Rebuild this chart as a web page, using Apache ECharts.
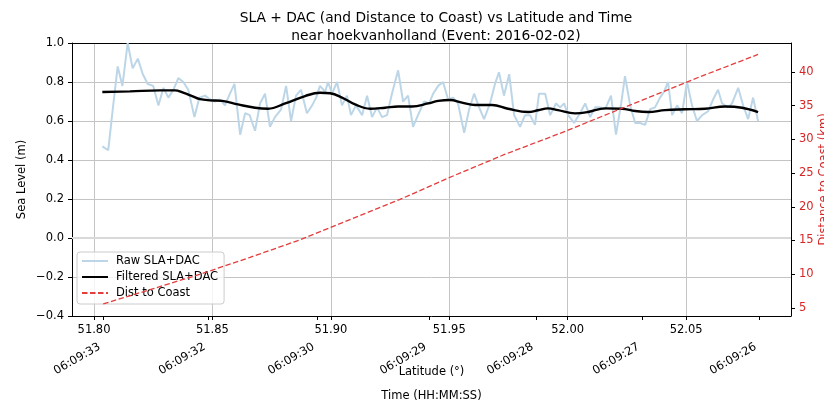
<!DOCTYPE html>
<html><head><meta charset="utf-8">
<script src="https://cdn.jsdelivr.net/npm/echarts@6/dist/echarts.min.js"></script>
<style>html,body{margin:0;padding:0;background:#fff}#c{width:824px;height:404px}</style>
</head><body><div id="c"></div>
<script>
// ---- data ----
const rawLat = [
  51.8035, 51.8060, 51.8080, 51.8100, 51.8120, 51.8142, 51.8163, 51.8185, 51.8206, 51.8227, 51.8250,
  51.8272, 51.8293, 51.8314, 51.8335, 51.8356, 51.8377, 51.8398, 51.8424, 51.8445, 51.8469, 51.8490,
  51.8511, 51.8532, 51.8553, 51.8574, 51.8593, 51.8617, 51.8638, 51.8657, 51.8680, 51.8701, 51.8722,
  51.8743, 51.8764, 51.8790, 51.8811, 51.8832, 51.8853, 51.8874, 51.8899, 51.8921, 51.8938, 51.8954,
  51.8976, 51.8988, 51.9005, 51.9026, 51.9047, 51.9068, 51.9085, 51.9106, 51.9132, 51.9153,
  51.9174, 51.9195, 51.9216, 51.9237, 51.9258, 51.9284, 51.9305, 51.9326, 51.9347, 51.9368,
  51.9394, 51.9415, 51.9432, 51.9453, 51.9474, 51.9495, 51.9516, 51.9537, 51.9563, 51.9584, 51.9605, 51.9626,
  51.9647, 51.9672, 51.9693, 51.9710, 51.9731, 51.9753, 51.9774, 51.9799, 51.9820, 51.9841, 51.9862,
  51.9879, 51.9905, 51.9926, 51.9951, 51.9968, 51.9985, 52.0002, 52.0027, 52.0052, 52.0074, 52.0095, 52.0116,
  52.0137, 52.0158, 52.0183, 52.0204, 52.0226, 52.0242, 52.0264, 52.0285, 52.0306, 52.0327, 52.0348,
  52.0369, 52.0390, 52.0407, 52.0424, 52.0441, 52.0462, 52.0483, 52.0504, 52.0525, 52.0546, 52.0568,
  52.0593, 52.0614, 52.0635, 52.0652, 52.0677, 52.0694, 52.0720, 52.0741, 52.0762, 52.0783, 52.0804
];
const rawSla = [
  0.47, 0.45, 0.67, 0.88, 0.78, 1.00, 0.87, 0.92, 0.84, 0.79, 0.78,
  0.68, 0.77, 0.72, 0.76, 0.82, 0.80, 0.76, 0.62, 0.72, 0.73, 0.71,
  0.70, 0.71, 0.68, 0.74, 0.79, 0.53, 0.64, 0.63, 0.55, 0.69, 0.74,
  0.57, 0.62, 0.66, 0.78, 0.60, 0.73, 0.76, 0.64, 0.68, 0.72, 0.78,
  0.75, 0.80, 0.74, 0.80, 0.68, 0.73, 0.63, 0.68, 0.63, 0.73,
  0.62, 0.67, 0.62, 0.63, 0.74, 0.86, 0.70, 0.73, 0.57, 0.63,
  0.70, 0.69, 0.74, 0.78, 0.80, 0.71, 0.72, 0.69, 0.54, 0.66, 0.74, 0.67,
  0.61, 0.69, 0.79, 0.85, 0.73, 0.84, 0.63, 0.57, 0.63, 0.63, 0.58,
  0.74, 0.74, 0.63, 0.69, 0.67, 0.69, 0.63, 0.59, 0.64, 0.69, 0.62, 0.67,
  0.67, 0.66, 0.73, 0.53, 0.69, 0.83, 0.68, 0.59, 0.59, 0.58, 0.66,
  0.67, 0.72, 0.75, 0.80, 0.63, 0.68, 0.64, 0.80, 0.68, 0.60, 0.63,
  0.65, 0.71, 0.76, 0.69, 0.67, 0.69, 0.77, 0.68, 0.61, 0.72, 0.60
];
const filtLat = [
  51.8035, 51.8152, 51.8279, 51.8342, 51.8376, 51.8414, 51.8448, 51.8490, 51.8541, 51.8608,
  51.8680, 51.8735, 51.8807, 51.8891, 51.8954, 51.8997, 51.9047, 51.9102, 51.9166, 51.9229,
  51.9284, 51.9343, 51.9410, 51.9453, 51.9503, 51.9554, 51.9609, 51.9681, 51.9748, 51.9833,
  51.9875, 51.9917, 51.9959, 52.0031, 52.0086, 52.0158, 52.0230, 52.0285, 52.0340, 52.0411,
  52.0496, 52.0580, 52.0665, 52.0736, 52.0804
];
const filtSla = [
  0.749, 0.752, 0.757, 0.757, 0.745, 0.728, 0.712, 0.706, 0.703, 0.685,
  0.668, 0.663, 0.690, 0.728, 0.745, 0.742, 0.720, 0.685, 0.663, 0.668,
  0.674, 0.674, 0.690, 0.703, 0.708, 0.694, 0.682, 0.682, 0.663, 0.646,
  0.655, 0.665, 0.656, 0.639, 0.646, 0.665, 0.663, 0.651, 0.646, 0.656,
  0.660, 0.663, 0.674, 0.668, 0.646
];
const distLat = [51.8039, 51.8236, 51.8448, 51.8659, 51.8870, 51.9081, 51.9292, 51.9491,
                 51.9736, 51.9968, 52.0179, 52.0348, 52.0559, 52.0804];
const distKm  = [5.6, 7.7, 10.0, 12.5, 15.1, 18.1, 21.1, 24.2, 27.8, 30.9, 33.9, 36.3, 39.3, 42.6];

const latTicks = [51.80, 51.85, 51.90, 51.95, 52.00, 52.05];
const distTicks = [5, 10, 15, 20, 25, 30, 35, 40];
const timeTickLat = [51.8038, 51.8481, 51.8942, 51.9415, 51.9867, 52.0314, 52.0808];
const timeTickLabels = ['06:09:33', '06:09:32', '06:09:30', '06:09:29', '06:09:28', '06:09:27', '06:09:26'];

const FONT = 'DejaVu Sans';
const FS = 11.5;
const X_MIN = 51.7907, X_MAX = 52.0943;
const RED_TXT = '#d62728';
const zip = (a, b) => a.map((v, i) => [v, b[i]]);

const chart = echarts.init(document.getElementById('c'), null, {renderer: 'canvas'});
chart.setOption({
  animation: false,
  backgroundColor: '#fff',
  textStyle: {fontFamily: FONT},
  title: {
    text: 'SLA + DAC (and Distance to Coast) vs Latitude and Time\nnear hoekvanholland (Event: 2016-02-02)',
    left: 431, top: 4, textAlign: 'center',
    textStyle: {fontFamily: FONT, fontSize: 13.8, fontWeight: 'normal', color: '#000', lineHeight: 18}
  },
  grid: {left: 72, right: 33, top: 43, bottom: 88, containLabel: false, outerBoundsMode: 'none'},
  legend: {
    orient: 'vertical', left: 77, top: 252, z: 4,
    padding: [3, 6, 5, 4], itemWidth: 26, itemHeight: 14, itemGap: 4,
    backgroundColor: 'rgba(255,255,255,0.8)', borderColor: '#cccccc', borderWidth: 1, borderRadius: 3,
    itemStyle: {color: 'rgba(0,0,0,0)', borderColor: 'rgba(0,0,0,0)', borderWidth: 0, opacity: 0},
    textStyle: {fontFamily: FONT, fontSize: FS, color: '#000', padding: [0, 0, 0, 3]},
    data: ['Raw SLA+DAC', 'Filtered SLA+DAC', 'Dist to Coast']
  },
  xAxis: [
    {
      type: 'value', min: X_MIN, max: X_MAX, position: 'bottom',
      name: 'Latitude (°)', nameLocation: 'middle', nameGap: 50, nameMoveOverlap: false,
      nameTextStyle: {fontFamily: FONT, fontSize: FS, color: '#000'},
      axisLine: {show: true, onZero: false, lineStyle: {color: '#000', width: 1}},
      axisTick: {show: true, length: 4, customValues: latTicks, lineStyle: {color: '#000'}},
      axisLabel: {customValues: latTicks, formatter: v => v.toFixed(2), fontSize: FS, color: '#000', margin: 8},
      splitLine: {show: true, lineStyle: {color: '#c4c4c4', width: 1}}
    },
    {
      type: 'value', min: X_MIN, max: X_MAX, position: 'bottom',
      name: 'Time (HH:MM:SS)', nameLocation: 'middle', nameGap: 74, nameMoveOverlap: false,
      nameTextStyle: {fontFamily: FONT, fontSize: FS, color: '#000'},
      axisLine: {show: false, onZero: false},
      axisTick: {show: true, length: 4, customValues: timeTickLat, lineStyle: {color: '#000'}},
      axisLabel: {
        customValues: timeTickLat, rotate: 30, margin: 28, padding: [0, 4, 0, 0],
        fontSize: FS, color: '#000',
        formatter: v => {
          let best = 0;
          timeTickLat.forEach((t, i) => { if (Math.abs(t - v) < Math.abs(timeTickLat[best] - v)) best = i; });
          return timeTickLabels[best];
        }
      },
      splitLine: {show: false}
    },
    {
      type: 'value', min: X_MIN, max: X_MAX, position: 'top',
      axisLine: {show: true, onZero: false, lineStyle: {color: '#000', width: 1}},
      axisTick: {show: false}, axisLabel: {show: false}, splitLine: {show: false}
    }
  ],
  yAxis: [
    {
      type: 'value', min: -0.4, max: 1.0, interval: 0.2, position: 'left',
      name: 'Sea Level (m)', nameLocation: 'middle', nameGap: 44, nameMoveOverlap: false,
      nameTextStyle: {fontFamily: FONT, fontSize: FS, color: '#000'},
      axisLine: {show: true, onZero: false, lineStyle: {color: '#000', width: 1}},
      axisTick: {show: true, length: 4, lineStyle: {color: '#000'}},
      axisLabel: {
        fontSize: FS, color: '#000', margin: 8,
        formatter: v => (Math.abs(v) < 1e-9 ? '0.0' : v.toFixed(1).replace('-', '\u2212'))
      },
      splitLine: {show: true, lineStyle: {color: '#c4c4c4', width: 1}}
    },
    {
      type: 'value', min: 3.8, max: 44.3, position: 'right',
      name: 'Distance to Coast (km)', nameLocation: 'middle', nameGap: 27, nameRotate: 90, nameMoveOverlap: false,
      nameTextStyle: {fontFamily: FONT, fontSize: FS, color: RED_TXT},
      axisLine: {show: true, onZero: false, lineStyle: {color: '#000', width: 1}},
      axisTick: {show: true, length: 4, customValues: distTicks, lineStyle: {color: '#000'}},
      axisLabel: {customValues: distTicks, fontSize: FS, color: RED_TXT, margin: 8},
      splitLine: {show: false}
    }
  ],
  series: [
    {
      name: 'Raw SLA+DAC', type: 'line', xAxisIndex: 0, yAxisIndex: 0,
      data: zip(rawLat, rawSla), symbol: 'none', showSymbol: false,
      lineStyle: {color: '#bcd6e8', width: 2}, itemStyle: {color: '#bcd6e8'},
      markLine: {
        silent: true, symbol: 'none', label: {show: false},
        lineStyle: {color: '#d9d9d9', width: 2, type: 'solid'},
        data: [{yAxis: 0}]
      }
    },
    {
      name: 'Filtered SLA+DAC', type: 'line', xAxisIndex: 0, yAxisIndex: 0,
      data: zip(filtLat, filtSla), symbol: 'none', showSymbol: false, smooth: 0.4,
      lineStyle: {color: '#000', width: 2.4}, itemStyle: {color: '#000'}
    },
    {
      name: 'Dist to Coast', type: 'line', xAxisIndex: 0, yAxisIndex: 1, z: 10,
      data: zip(distLat, distKm), symbol: 'none', showSymbol: false,
      lineStyle: {color: '#e43d3d', width: 1.3, type: [5.5, 2.5]}, itemStyle: {color: '#e43d3d'}
    }
  ]
});
</script>
</body></html>
